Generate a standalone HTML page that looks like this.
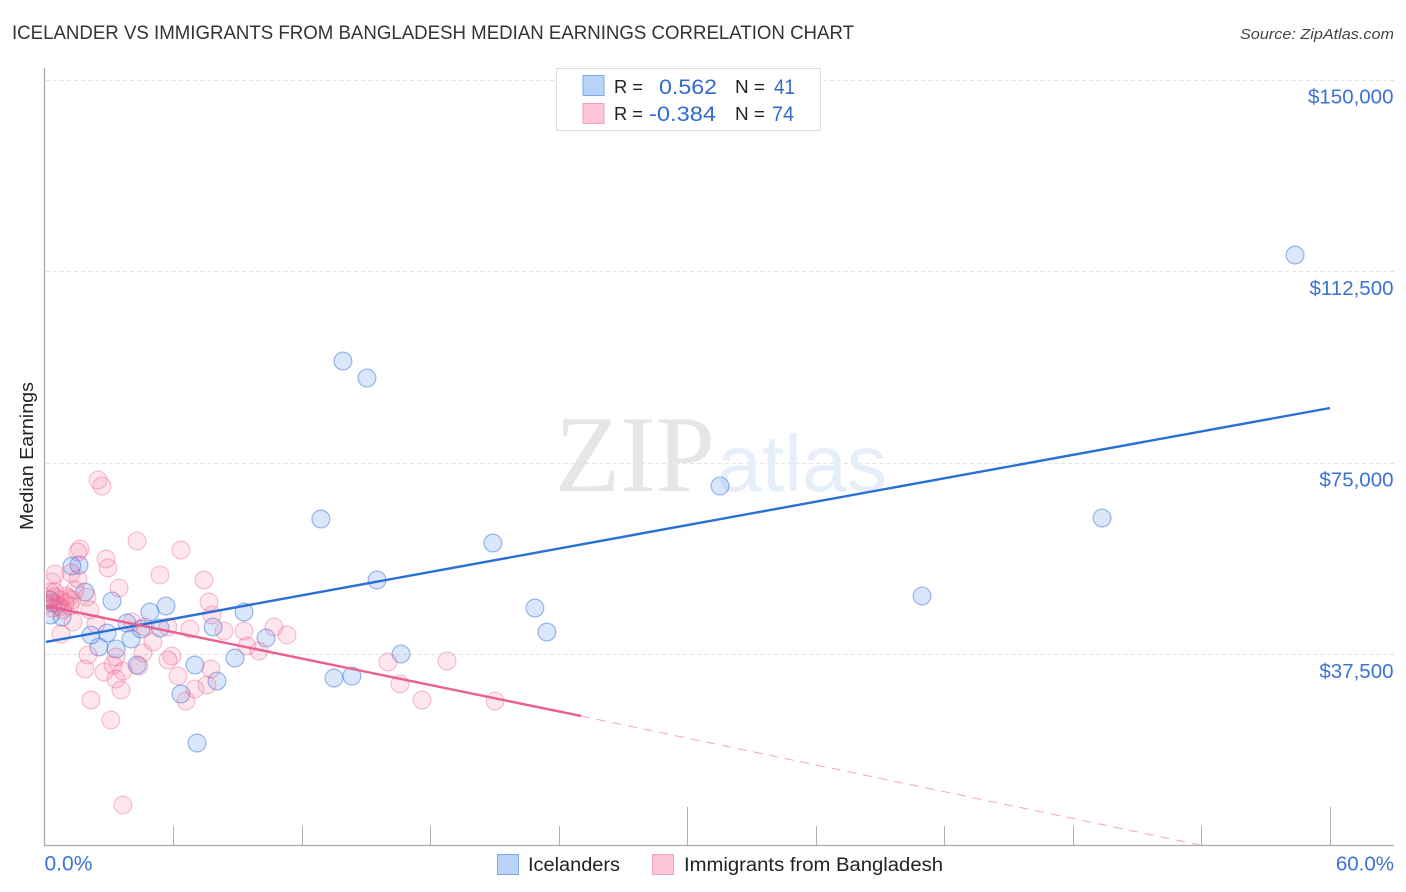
<!DOCTYPE html>
<html lang="en">
<head>
<meta charset="utf-8">
<title>Icelander vs Immigrants from Bangladesh Median Earnings Correlation Chart</title>
<style>
html,body{margin:0;padding:0;background:#fff;}
body{width:1406px;height:892px;overflow:hidden;font-family:"Liberation Sans",sans-serif;}
svg{display:block;}
text{font-family:"Liberation Sans",sans-serif;}
</style>
</head>
<body>
<svg id="chart" width="1406" height="892" viewBox="0 0 1406 892" xmlns="http://www.w3.org/2000/svg">
  <defs>
    <clipPath id="plot-clip"><rect x="46" y="60" width="1348" height="786"/></clipPath>
  </defs>
  <rect x="0" y="0" width="1406" height="892" fill="#fff"/>
  <text x="12" y="39" font-size="19" fill="#333" textLength="842" lengthAdjust="spacingAndGlyphs">ICELANDER VS IMMIGRANTS FROM BANGLADESH MEDIAN EARNINGS CORRELATION CHART</text>
  <text x="1394" y="39" font-size="15" font-style="italic" fill="#444" text-anchor="end" textLength="154" lengthAdjust="spacingAndGlyphs">Source: ZipAtlas.com</text>
  <text transform="translate(33,456) rotate(-90)" font-size="18" fill="#222" text-anchor="middle" textLength="148" lengthAdjust="spacingAndGlyphs">Median Earnings</text>
  <g id="grid"></g>
  <text x="555" y="491" font-size="109" fill="#e6e6e6" textLength="160" lengthAdjust="spacingAndGlyphs" style="font-family:'Liberation Serif',serif">ZIP</text>
  <text x="717" y="491" font-size="80" fill="#e6eefa" textLength="170" lengthAdjust="spacingAndGlyphs">atlas</text>
  <g id="axes"></g>
  <g id="series-blue" clip-path="url(#plot-clip)"></g>
  <g id="series-pink" clip-path="url(#plot-clip)"></g>
  <g id="trends"></g>
  <g id="y-labels"></g>
  <g id="x-labels"></g>

  <g>
    <rect x="556.5" y="68.5" width="264" height="62" fill="#fff" stroke="#ddd" stroke-width="1"/>
    <rect x="583" y="75.5" width="21" height="20" fill="#b8d3f7" stroke="#7fa9e6" stroke-width="1"/>
    <rect x="583" y="103.5" width="21" height="20" fill="#fcc6d8" stroke="#f2a0bb" stroke-width="1"/>
    <text x="614" y="93" font-size="18" fill="#222" textLength="29" lengthAdjust="spacingAndGlyphs">R =</text>
    <text x="659" y="94" font-size="21" fill="#2f6bd0" textLength="58" lengthAdjust="spacingAndGlyphs">0.562</text>
    <text x="735" y="93" font-size="18" fill="#222" textLength="30" lengthAdjust="spacingAndGlyphs">N =</text>
    <text x="774" y="94" font-size="21" fill="#2f6bd0" textLength="21" lengthAdjust="spacingAndGlyphs">41</text>
    <text x="614" y="120" font-size="18" fill="#222" textLength="29" lengthAdjust="spacingAndGlyphs">R =</text>
    <text x="649" y="121" font-size="21" fill="#2f6bd0" textLength="67" lengthAdjust="spacingAndGlyphs">-0.384</text>
    <text x="735" y="120" font-size="18" fill="#222" textLength="30" lengthAdjust="spacingAndGlyphs">N =</text>
    <text x="772" y="121" font-size="21" fill="#2f6bd0" textLength="22" lengthAdjust="spacingAndGlyphs">74</text>
  </g>

  <g>
    <rect x="497.5" y="854.5" width="21" height="20" fill="#b8d3f7" stroke="#7fa9e6" stroke-width="1"/>
    <text x="528" y="871" font-size="19" fill="#222" textLength="92" lengthAdjust="spacingAndGlyphs">Icelanders</text>
    <rect x="652.5" y="854.5" width="21" height="20" fill="#fcc6d8" stroke="#f2a0bb" stroke-width="1"/>
    <text x="684" y="871" font-size="19" fill="#222" textLength="259" lengthAdjust="spacingAndGlyphs">Immigrants from Bangladesh</text>
  </g>
</svg>
<script>
// ---- Chart data (x = percent, y = thousands of dollars) ----
const blueX = [58.37,13.93,15.05,31.53,12.90,49.36,20.93,15.52,40.96,22.89,23.45,16.64,13.51,14.35,10.34,9.31,8.89,8.05,7.87,7.12,7.02,6.37,5.67,4.92,5.39,4.50,3.85,4.04,4.32,3.34,3.15,2.92,2.54,2.17,1.89,1.61,1.28,0.82,0.40,0.28,0.26];
const blueY = [115.73,94.97,91.64,70.50,64.03,64.23,59.33,52.09,48.96,46.60,41.90,37.60,32.90,33.29,40.73,45.82,36.81,32.31,42.88,20.17,35.44,29.76,47.00,45.82,42.69,42.49,43.67,40.53,35.44,38.58,47.98,41.71,38.97,41.32,49.74,55.03,54.83,44.84,47.58,45.23,48.17];
const pinkX = [2.50,2.68,4.32,6.37,1.66,1.56,2.87,2.96,5.39,7.44,0.49,0.35,1.24,1.56,3.48,1.42,1.98,7.68,7.82,2.12,1.33,0.77,2.40,4.08,4.69,5.76,6.79,8.38,9.31,10.71,11.32,9.45,10.01,5.06,4.60,5.95,5.76,7.77,2.03,3.34,3.20,1.89,2.78,3.66,4.41,3.34,6.23,7.58,7.02,6.60,3.57,2.17,3.10,3.66,16.03,16.59,17.62,18.79,21.03,0.26,0.49,0.72,0.96,1.10,0.16,0.35,0.63,0.86,1.19,0.49,0.07,1.00,0.72,1.28];
const pinkY = [71.67,70.50,59.73,57.96,58.16,57.57,56.20,54.44,53.07,52.09,53.26,51.70,53.46,52.28,50.52,50.13,48.76,47.78,45.23,46.21,43.86,41.51,43.47,43.86,42.88,42.88,42.49,42.10,42.10,42.88,41.32,39.16,38.18,39.95,37.79,37.21,36.42,34.66,37.40,37.01,35.44,34.66,34.07,34.27,35.25,32.70,33.29,31.53,30.74,28.39,30.55,28.59,24.67,8.03,36.03,31.72,28.59,36.23,28.39,49.74,48.76,48.17,47.58,48.56,48.17,46.60,47.19,46.21,47.00,49.74,47.39,48.96,46.80,48.17];
const blueTrendX = [0.07,60];
const blueTrendY = [39.95,85.77];
const pinkTrendX = [0.07,25.04];
const pinkTrendY = [47.0,25.46];
const pinkDashX = [25.04,53.93];
const pinkDashY = [25.46,0.2];
const yTicks = [37.5,75,112.5,150];
const yTickLabels = ["$37,500","$75,000","$112,500","$150,000"];
const xTicks = [6,12,18,24,30,36,42,48,54,60];
const xMajorTicks = [30,60];
const xEnds = ["0.0%","60.0%"];

// ---- Axis functions ----
const xScale = v => 44.5 + v * 21.425;
const yScale = v => 846 - v * 5.1067;

const NS = "http://www.w3.org/2000/svg";
function make(parent, tag, attrs, txt){
  const e = document.createElementNS(NS, tag);
  for (const k in attrs) e.setAttribute(k, attrs[k]);
  if (txt !== undefined) e.textContent = txt;
  parent.appendChild(e);
  return e;
}
const grid = document.getElementById("grid");
const axes = document.getElementById("axes");
const yLab = document.getElementById("y-labels");
const xLab = document.getElementById("x-labels");
const trends = document.getElementById("trends");

yTicks.forEach((t,i) => {
  const y = Math.round(yScale(t)) + 0.5;
  const g = make(grid, "line", {x1:46, x2:1394, y1:y, y2:y, stroke:"#e3e3e3", "stroke-width":1, "stroke-dasharray":"4 3"});
  
  
  const l = make(yLab, "text", {x:1393.5, y:yScale(t)+23.5, "font-size":20.5, fill:"#3b72d4", "text-anchor":"end"}, yTickLabels[i]);
  
  
});

const yAxis = make(axes, "line", {x1:44.5, x2:44.5, y1:68, y2:846, stroke:"#aaa", "stroke-width":1.3});


const xAxis = make(axes, "line", {x1:44, x2:1394, y1:845.5, y2:845.5, stroke:"#aaa", "stroke-width":1.3});



xTicks.forEach(t => {
  const x = Math.round(xScale(t)) + 0.5;
  const top = xMajorTicks.includes(t) ? 807 : 826;
  const k = make(axes, "line", {x1:x, x2:x, y1:top, y2:846, stroke:"#b0b0b0", "stroke-width":1});
  
  
});

const x0 = make(xLab, "text", {x:xScale(0), y:870.5, "font-size":21, fill:"#3b72d4"}, xEnds[0]);


const x1 = make(xLab, "text", {x:1394, y:870.5, "font-size":20.5, fill:"#3b72d4", "text-anchor":"end"}, xEnds[1]);



const blueG = document.getElementById("series-blue");
blueX.forEach((v,i) => {
  const c = make(blueG, "circle", {cx:xScale(v), cy:yScale(blueY[i]), r:8.9, fill:"rgba(100,155,240,0.24)", stroke:"rgba(50,110,215,0.48)", "stroke-width":1.2});
  
  
});
const pinkG = document.getElementById("series-pink");
pinkX.forEach((v,i) => {
  const c = make(pinkG, "circle", {cx:xScale(v), cy:yScale(pinkY[i]), r:8.9, fill:"rgba(242,110,150,0.17)", stroke:"rgba(235,90,135,0.36)", "stroke-width":1.2});
  
  
});

const bt = make(trends, "line", {x1:xScale(blueTrendX[0]), y1:yScale(blueTrendY[0]), x2:xScale(blueTrendX[1]), y2:yScale(blueTrendY[1]), stroke:"#2a6fd6", "stroke-width":2.4});


const pt = make(trends, "line", {x1:xScale(pinkTrendX[0]), y1:yScale(pinkTrendY[0]), x2:xScale(pinkTrendX[1]), y2:yScale(pinkTrendY[1]), stroke:"#ea5f8f", "stroke-width":2.4});


const pd = make(trends, "line", {x1:xScale(pinkDashX[0]), y1:yScale(pinkDashY[0]), x2:xScale(pinkDashX[1]), y2:yScale(pinkDashY[1]), stroke:"#f0a5bd", "stroke-width":1, "stroke-dasharray":"9 7"});


</script>
</body>
</html>
